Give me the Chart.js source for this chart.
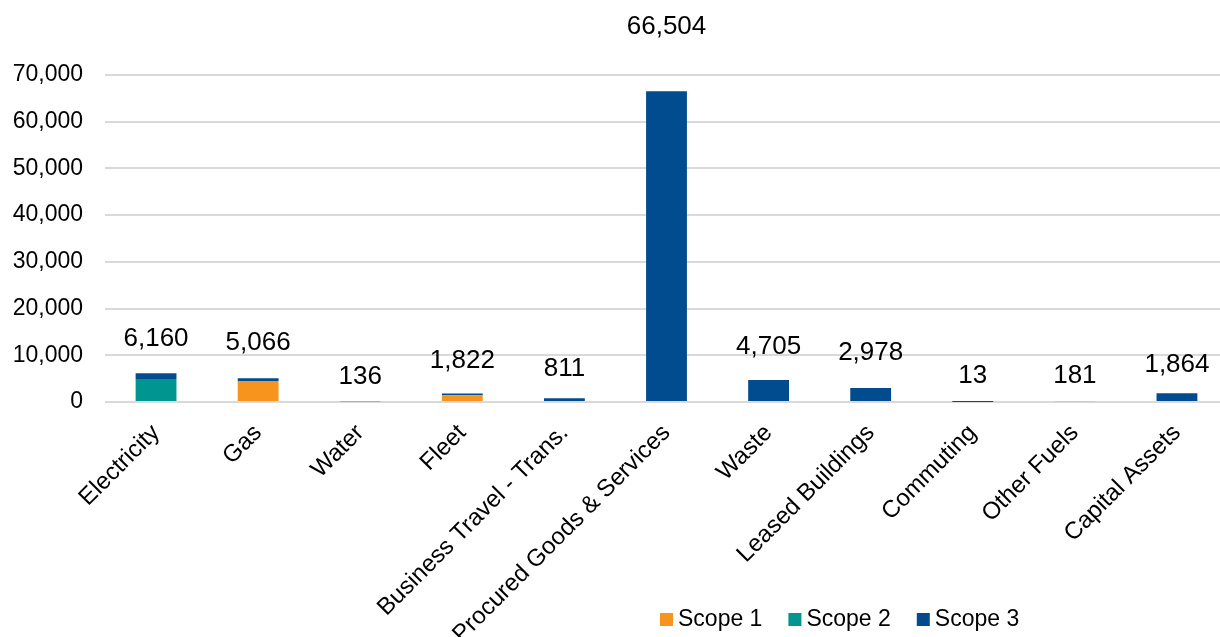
<!DOCTYPE html>
<html>
<head>
<meta charset="utf-8">
<script src="https://cdn.jsdelivr.net/npm/chart.js@4.4.1/dist/chart.umd.min.js"></script>
<style>
  html, body { margin: 0; padding: 0; background: #fff; overflow: hidden; }
  #wrap { width: 1228px; height: 637px; position: relative; }
</style>
</head>
<body>
<div id="wrap"><canvas id="c"></canvas></div>
<script>
const categories = ['Electricity', 'Gas', 'Water', 'Fleet', 'Business Travel - Trans.',
  'Procured Goods & Services', 'Waste', 'Leased Buildings', 'Commuting', 'Other Fuels', 'Capital Assets'];
const scope1 = [null, 4480, null, 1420, null, null, null, null, null, 181, null];
const scope2 = [4950, null, null, null, null, null, null, null, null, null, null];
const scope3 = [1210, 586, 136, 402, 811, 66504, 4705, 2978, 13, null, 1864];
const totals = [6160, 5066, 136, 1822, 811, 66504, 4705, 2978, 13, 181, 1864];
const yTicks = [0, 10000, 20000, 30000, 40000, 50000, 60000, 70000];
const seriesNames = ['Scope 1', 'Scope 2', 'Scope 3'];
const seriesColors = ['#F7941D', '#00968F', '#014C8F'];

const FONT = "'Liberation Sans', Arial, sans-serif";
const labelGap = [34, 36, 25, 33, 29, 65, 33, 35, 26, 25, 28];

const totalLabels = {
  id: 'totalLabels',
  afterDatasetsDraw(chart) {
    const ctx = chart.ctx, xs = chart.scales.x, ys = chart.scales.y;
    ctx.save();
    ctx.font = '26px ' + FONT;
    ctx.fillStyle = '#000';
    ctx.textAlign = 'center';
    ctx.textBaseline = 'middle';
    totals.forEach((t, i) => {
      const x = xs.getPixelForValue(i);
      const y = ys.getPixelForValue(t) - labelGap[i];
      ctx.fillText(t.toLocaleString('en-US'), x, y);
    });
    ctx.restore();
  }
};

const customLegend = {
  id: 'customLegend',
  afterDraw(chart) {
    const ctx = chart.ctx;
    ctx.save();
    ctx.font = '23px ' + FONT;
    ctx.textBaseline = 'middle';
    ctx.textAlign = 'left';
    let x = 660;
    const y = 620;
    seriesNames.forEach((n, i) => {
      ctx.fillStyle = seriesColors[i];
      ctx.fillRect(x, y - 7, 13, 13);
      ctx.fillStyle = '#000';
      ctx.fillText(n, x + 18, y);
      x += 18 + ctx.measureText(n).width + 26;
    });
    ctx.restore();
  }
};

new Chart(document.getElementById('c'), {
  type: 'bar',
  data: {
    labels: categories,
    datasets: [
      { label: seriesNames[0], data: scope1, backgroundColor: seriesColors[0] },
      { label: seriesNames[1], data: scope2, backgroundColor: seriesColors[1] },
      { label: seriesNames[2], data: scope3, backgroundColor: seriesColors[2] }
    ]
  },
  options: {
    responsive: true,
    maintainAspectRatio: false,
    animation: false,
    devicePixelRatio: 1,
    layout: { padding: { top: 75, left: 0, right: 0, bottom: 0 } },
    datasets: { bar: { categoryPercentage: 1, barPercentage: 0.4, borderWidth: 0 } },
    plugins: { legend: { display: false }, tooltip: { enabled: false } },
    scales: {
      x: {
        stacked: true,
        grid: { display: false },
        border: { display: false },
        ticks: {
          font: { family: FONT, size: 24 },
          color: '#000',
          maxRotation: 45,
          minRotation: 45,
          padding: 9,
          autoSkip: false
        },
        afterFit(scale) { scale.height = 235; }
      },
      y: {
        stacked: true,
        min: 0,
        max: 70000,
        afterBuildTicks(scale) { scale.ticks = yTicks.map(v => ({ value: v })); },
        grid: { color: '#D9D9D9', lineWidth: 2, drawTicks: false },
        border: { display: false },
        ticks: {
          font: { family: FONT, size: 23 },
          color: '#000',
          padding: 22,
          callback: v => Number(v).toLocaleString('en-US')
        },
        afterFit(scale) { scale.width = 105; }
      }
    }
  },
  plugins: [totalLabels, customLegend]
});
</script>
</body>
</html>
